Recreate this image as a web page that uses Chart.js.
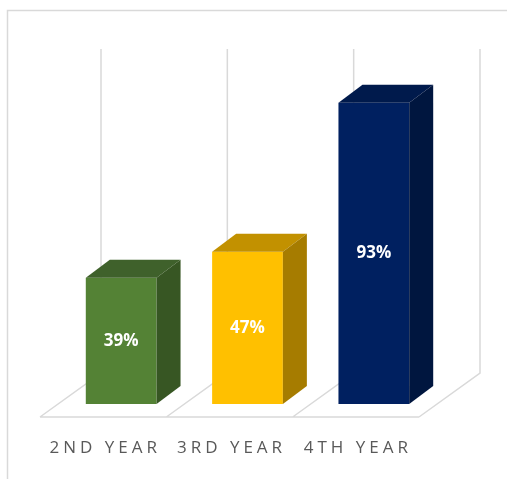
<!DOCTYPE html>
<html>
<head>
<meta charset="utf-8">
<title>Year comparison</title>
<script src="https://cdn.jsdelivr.net/npm/chart.js@4.4.1/dist/chart.umd.min.js"></script>
<style>
  html, body { margin: 0; padding: 0; background: #fff; }
  canvas { display: block; }
</style>
</head>
<body>
<canvas id="yearChart" width="507" height="479"></canvas>
<script>
// chart data
const categories = ['2ND YEAR', '3RD YEAR', '4TH YEAR'];
const values = [39, 47, 93];
const valueRange = [0, 100];

// bar colours: front face, right side, top
const frontColors = ['#548235', '#ffc000', '#002060'];
const sideColors = ['#375623', '#a67c00', '#00163f'];
const topColors = ['#3f612b', '#c29100', '#001a4c'];

// fake 3D offsets in px
const BAR_DEPTH = { dx: 24, dy: -18 };
const FLOOR_FRONT = { dx: -18, dy: 13 };
const BACK_WALL = { dx: 43, dy: -31 };
const GRID_COLOR = '#d9d9d9';

const frame3d = {
  id: 'frame3d',
  beforeDraw(chart) {
    const ctx = chart.ctx;
    ctx.save();
    ctx.strokeStyle = GRID_COLOR;
    ctx.lineWidth = 1.5;
    ctx.beginPath();
    ctx.moveTo(7.5, chart.height);
    ctx.lineTo(7.5, 10.5);
    ctx.lineTo(chart.width, 10.5);
    ctx.stroke();
    ctx.restore();
    // spaced out category labels (axis labels are drawn before the bars)
    ctx.letterSpacing = '4px';
  },
  beforeDatasetsDraw(chart) {
    const ctx = chart.ctx;
    ctx.letterSpacing = '0px';
    const x = chart.scales.x, y = chart.scales.y;
    const top = y.getPixelForValue(valueRange[1]);
    const bottom = y.getPixelForValue(valueRange[0]);
    const step = (x.right - x.left) / categories.length;
    const bounds = [];
    for (let i = 0; i <= categories.length; i++) bounds.push(x.left + i * step);

    ctx.save();
    ctx.strokeStyle = GRID_COLOR;
    ctx.lineWidth = 1.5;
    ctx.beginPath();
    bounds.forEach(bx => {
      ctx.moveTo(bx + BACK_WALL.dx, top + BACK_WALL.dy);
      ctx.lineTo(bx + BACK_WALL.dx, bottom + BACK_WALL.dy);
      ctx.lineTo(bx + FLOOR_FRONT.dx, bottom + FLOOR_FRONT.dy);
    });
    ctx.moveTo(bounds[0] + FLOOR_FRONT.dx, bottom + FLOOR_FRONT.dy);
    ctx.lineTo(bounds[bounds.length - 1] + FLOOR_FRONT.dx, bottom + FLOOR_FRONT.dy);
    ctx.stroke();
    ctx.restore();
  },
  afterDatasetsDraw(chart) {
    const ctx = chart.ctx;
    const meta = chart.getDatasetMeta(0);
    ctx.save();
    meta.data.forEach((bar, i) => {
      const x1 = bar.x - bar.width / 2, x2 = bar.x + bar.width / 2;
      const yt = bar.y, yb = bar.base;
      const { dx, dy } = BAR_DEPTH;

      // top face
      ctx.fillStyle = topColors[i];
      ctx.beginPath();
      ctx.moveTo(x1, yt);
      ctx.lineTo(x1 + dx, yt + dy);
      ctx.lineTo(x2 + dx, yt + dy);
      ctx.lineTo(x2, yt);
      ctx.closePath();
      ctx.fill();

      // right side
      ctx.fillStyle = sideColors[i];
      ctx.beginPath();
      ctx.moveTo(x2, yt);
      ctx.lineTo(x2 + dx, yt + dy);
      ctx.lineTo(x2 + dx, yb + dy);
      ctx.lineTo(x2, yb);
      ctx.closePath();
      ctx.fill();

      // value label
      ctx.fillStyle = '#ffffff';
      ctx.font = 'bold 17px "Open Sans"';
      ctx.textAlign = 'center';
      ctx.textBaseline = 'middle';
      ctx.fillText(values[i] + '%', bar.x, (yt + yb) / 2);
    });
    ctx.restore();
  }
};

new Chart(document.getElementById('yearChart'), {
  type: 'bar',
  data: {
    labels: categories,
    datasets: [{
      data: values,
      backgroundColor: frontColors,
      borderWidth: 0,
      categoryPercentage: 1,
      barPercentage: 0.56
    }]
  },
  options: {
    responsive: false,
    animation: false,
    layout: { padding: { left: 58, right: 70, top: 80, bottom: 11 } },
    plugins: {
      legend: { display: false },
      tooltip: { enabled: false }
    },
    scales: {
      x: {
        grid: { display: false, drawTicks: false },
        border: { display: false },
        afterFit(scale) { scale.height = 64; },
        ticks: {
          color: '#595959',
          font: { family: '"Open Sans"', size: 17 },
          padding: 34,
          labelOffset: -16,
          maxRotation: 0,
          autoSkip: false
        }
      },
      y: {
        display: false,
        min: valueRange[0],
        max: valueRange[1]
      }
    }
  },
  plugins: [frame3d]
});
</script>
</body>
</html>
